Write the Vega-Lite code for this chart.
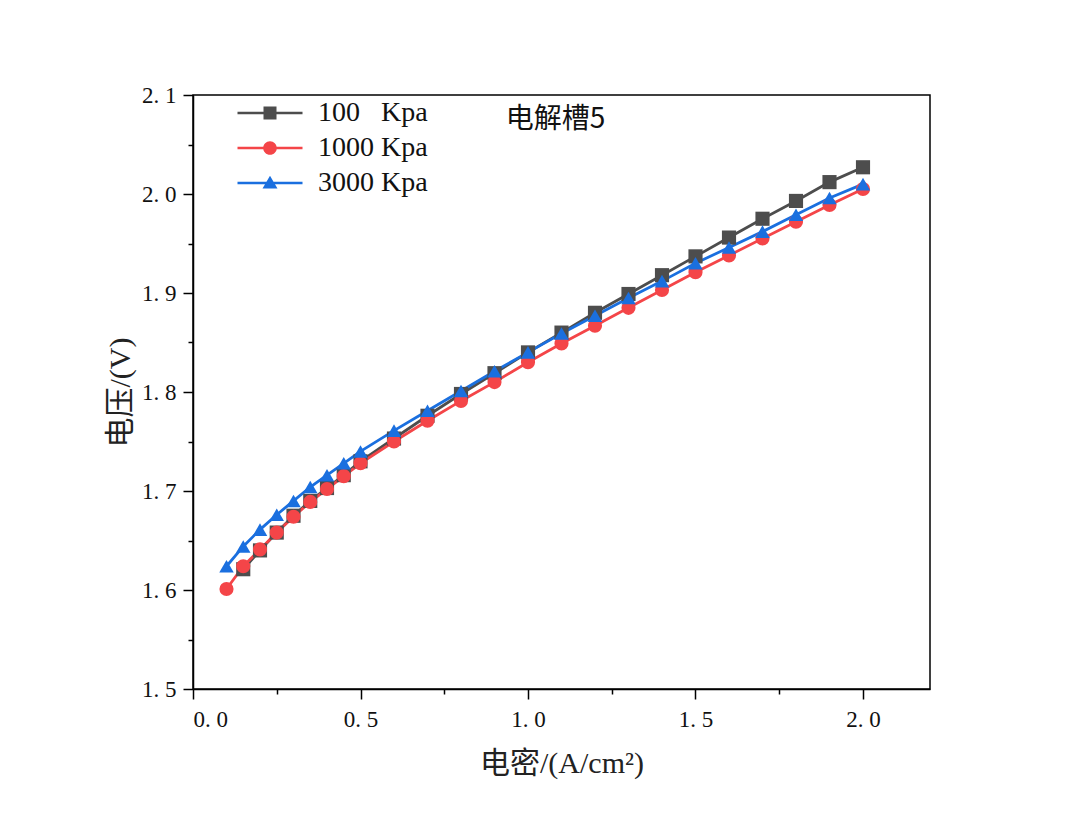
{
  "$schema": "https://vega.github.io/schema/vega-lite/v6.json",
  "autosize": "none",
  "width": 737,
  "height": 594,
  "padding": {"left": 193, "top": 95, "right": 150, "bottom": 137},
  "background": "white",
  "config": {
    "view": {"stroke": "black", "strokeWidth": 1.5},
    "axis": {"grid": false},
    "legend": {
      "title": null,
      "orient": "none",
      "legendX": 63,
      "legendY": 4,
      "padding": 0,
      "symbolSize": 169,
      "rowPadding": 7,
      "labelOffset": 34,
      "labelFont": "Liberation Serif",
      "labelFontSize": 28,
      "labelColor": "#111"
    }
  },
  "datasets": {
    "curves": [
      {"x": 0.15, "v": 1.621, "s": "100 Kpa"},
      {"x": 0.2, "v": 1.640, "s": "100 Kpa"},
      {"x": 0.25, "v": 1.658, "s": "100 Kpa"},
      {"x": 0.3, "v": 1.675, "s": "100 Kpa"},
      {"x": 0.35, "v": 1.690, "s": "100 Kpa"},
      {"x": 0.4, "v": 1.703, "s": "100 Kpa"},
      {"x": 0.45, "v": 1.716, "s": "100 Kpa"},
      {"x": 0.5, "v": 1.730, "s": "100 Kpa"},
      {"x": 0.6, "v": 1.753, "s": "100 Kpa"},
      {"x": 0.7, "v": 1.776, "s": "100 Kpa"},
      {"x": 0.8, "v": 1.798, "s": "100 Kpa"},
      {"x": 0.9, "v": 1.819, "s": "100 Kpa"},
      {"x": 1.0, "v": 1.840, "s": "100 Kpa"},
      {"x": 1.1, "v": 1.860, "s": "100 Kpa"},
      {"x": 1.2, "v": 1.880, "s": "100 Kpa"},
      {"x": 1.3, "v": 1.899, "s": "100 Kpa"},
      {"x": 1.4, "v": 1.918, "s": "100 Kpa"},
      {"x": 1.5, "v": 1.937, "s": "100 Kpa"},
      {"x": 1.6, "v": 1.956, "s": "100 Kpa"},
      {"x": 1.7, "v": 1.975, "s": "100 Kpa"},
      {"x": 1.8, "v": 1.993, "s": "100 Kpa"},
      {"x": 1.9, "v": 2.012, "s": "100 Kpa"},
      {"x": 2.0, "v": 2.027, "s": "100 Kpa"},
      {"x": 0.1, "v": 1.601, "s": "1000 Kpa"},
      {"x": 0.15, "v": 1.624, "s": "1000 Kpa"},
      {"x": 0.2, "v": 1.641, "s": "1000 Kpa"},
      {"x": 0.25, "v": 1.658, "s": "1000 Kpa"},
      {"x": 0.3, "v": 1.674, "s": "1000 Kpa"},
      {"x": 0.35, "v": 1.689, "s": "1000 Kpa"},
      {"x": 0.4, "v": 1.702, "s": "1000 Kpa"},
      {"x": 0.45, "v": 1.715, "s": "1000 Kpa"},
      {"x": 0.5, "v": 1.728, "s": "1000 Kpa"},
      {"x": 0.6, "v": 1.750, "s": "1000 Kpa"},
      {"x": 0.7, "v": 1.771, "s": "1000 Kpa"},
      {"x": 0.8, "v": 1.791, "s": "1000 Kpa"},
      {"x": 0.9, "v": 1.810, "s": "1000 Kpa"},
      {"x": 1.0, "v": 1.830, "s": "1000 Kpa"},
      {"x": 1.1, "v": 1.849, "s": "1000 Kpa"},
      {"x": 1.2, "v": 1.867, "s": "1000 Kpa"},
      {"x": 1.3, "v": 1.885, "s": "1000 Kpa"},
      {"x": 1.4, "v": 1.903, "s": "1000 Kpa"},
      {"x": 1.5, "v": 1.921, "s": "1000 Kpa"},
      {"x": 1.6, "v": 1.938, "s": "1000 Kpa"},
      {"x": 1.7, "v": 1.955, "s": "1000 Kpa"},
      {"x": 1.8, "v": 1.972, "s": "1000 Kpa"},
      {"x": 1.9, "v": 1.989, "s": "1000 Kpa"},
      {"x": 2.0, "v": 2.005, "s": "1000 Kpa"},
      {"x": 0.1, "v": 1.624, "s": "3000 Kpa"},
      {"x": 0.15, "v": 1.644, "s": "3000 Kpa"},
      {"x": 0.2, "v": 1.661, "s": "3000 Kpa"},
      {"x": 0.25, "v": 1.676, "s": "3000 Kpa"},
      {"x": 0.3, "v": 1.690, "s": "3000 Kpa"},
      {"x": 0.35, "v": 1.704, "s": "3000 Kpa"},
      {"x": 0.4, "v": 1.716, "s": "3000 Kpa"},
      {"x": 0.45, "v": 1.728, "s": "3000 Kpa"},
      {"x": 0.5, "v": 1.740, "s": "3000 Kpa"},
      {"x": 0.6, "v": 1.761, "s": "3000 Kpa"},
      {"x": 0.7, "v": 1.781, "s": "3000 Kpa"},
      {"x": 0.8, "v": 1.801, "s": "3000 Kpa"},
      {"x": 0.9, "v": 1.821, "s": "3000 Kpa"},
      {"x": 1.0, "v": 1.840, "s": "3000 Kpa"},
      {"x": 1.1, "v": 1.859, "s": "3000 Kpa"},
      {"x": 1.2, "v": 1.877, "s": "3000 Kpa"},
      {"x": 1.3, "v": 1.895, "s": "3000 Kpa"},
      {"x": 1.4, "v": 1.912, "s": "3000 Kpa"},
      {"x": 1.5, "v": 1.930, "s": "3000 Kpa"},
      {"x": 1.6, "v": 1.946, "s": "3000 Kpa"},
      {"x": 1.7, "v": 1.962, "s": "3000 Kpa"},
      {"x": 1.8, "v": 1.979, "s": "3000 Kpa"},
      {"x": 1.9, "v": 1.996, "s": "3000 Kpa"},
      {"x": 2.0, "v": 2.010, "s": "3000 Kpa"}
    ]
  },
  "layer": [
    {
      "data": {"name": "curves"},
      "mark": {"type": "line", "strokeWidth": 2.8},
      "encoding": {
        "x": {
          "field": "x", "type": "quantitative",
          "scale": {"domain": [0, 2.2], "nice": false, "zero": false},
          "axis": {
            "title": "电密/(A/cm²)",
            "titleFont": "Liberation Serif, Noto Sans CJK SC",
            "titleFontSize": 30, "titleFontWeight": "normal", "titleColor": "#222",
            "titlePadding": 17,
            "values": [0, 0.25, 0.5, 0.75, 1.0, 1.25, 1.5, 1.75, 2.0],
            "labelExpr": "round(datum.value*100) % 50 === 0 ? replace(format(datum.value, '.1f'), '.', '. ') : ''",
            "labelFont": "Liberation Serif", "labelFontSize": 23, "labelColor": "#111",
            "labelPadding": 9,
            "domainColor": "black", "domainWidth": 1.5,
            "tickColor": "black", "tickWidth": 1.5,
            "tickSize": {"condition": {"test": "round(datum.value*100) % 50 === 0", "value": 10}, "value": 5}
          }
        },
        "y": {
          "field": "v", "type": "quantitative",
          "scale": {"domain": [1.5, 2.1], "nice": false, "zero": false},
          "axis": {
            "title": "电压/(V)",
            "titleFont": "Liberation Serif, Noto Sans CJK SC",
            "titleFontSize": 30, "titleFontWeight": "normal", "titleColor": "#222",
            "titlePadding": 6,
            "values": [1.5, 1.55, 1.6, 1.65, 1.7, 1.75, 1.8, 1.85, 1.9, 1.95, 2.0, 2.05, 2.1],
            "labelExpr": "round(datum.value*100) % 10 === 0 ? replace(format(datum.value, '.1f'), '.', '. ') : ''",
            "labelFont": "Liberation Serif", "labelFontSize": 23, "labelColor": "#111",
            "labelPadding": 7,
            "domainColor": "black", "domainWidth": 1.5,
            "tickColor": "black", "tickWidth": 1.5,
            "tickSize": {"condition": {"test": "round(datum.value*100) % 10 === 0", "value": 10}, "value": 5}
          }
        },
        "color": {
          "field": "s", "type": "nominal",
          "scale": {"domain": ["100 Kpa", "1000 Kpa", "3000 Kpa"], "range": ["#4d4d4d", "#f44548", "#1a6fdf"]},
          "legend": {
            "labelExpr": "datum.label === '100 Kpa' ? '100\u2007 Kpa' : datum.label",
            "encode": {
              "symbols": {
                "update": {
                  "shape": {"signal": "datum.value === '100 Kpa' ? 'M-5,-0.2H5V0.2H-5Z M-1,-1H1V1H-1Z' : datum.value === '1000 Kpa' ? 'M-5,-0.2H5V0.2H-5Z M-1.05,0A1.05,1.05,0,1,1,1.05,0A1.05,1.05,0,1,1,-1.05,0Z' : 'M-5,-0.2H5V0.2H-5Z M0,-1.1L1.15,0.85H-1.15Z'"},
                  "fill": {"signal": "scale('color', datum.value)"},
                  "stroke": {"value": "transparent"},
                  "strokeWidth": {"value": 0},
                  "opacity": {"value": 1}
                }
              }
            }
          }
        },
        "order": {"field": "x", "type": "quantitative"}
      }
    },
    {
      "data": {"name": "curves"},
      "transform": [{"filter": "datum.s === '100 Kpa'"}],
      "mark": {"type": "point", "filled": true, "opacity": 1, "size": 200, "shape": "square"},
      "encoding": {
        "x": {"field": "x", "type": "quantitative"},
        "y": {"field": "v", "type": "quantitative"},
        "color": {"field": "s", "type": "nominal"}
      }
    },
    {
      "data": {"name": "curves"},
      "transform": [{"filter": "datum.s === '1000 Kpa'"}],
      "mark": {"type": "point", "filled": true, "opacity": 1, "size": 200, "shape": "circle"},
      "encoding": {
        "x": {"field": "x", "type": "quantitative"},
        "y": {"field": "v", "type": "quantitative"},
        "color": {"field": "s", "type": "nominal"}
      }
    },
    {
      "data": {"name": "curves"},
      "transform": [{"filter": "datum.s === '3000 Kpa'"}],
      "mark": {"type": "point", "filled": true, "opacity": 1, "size": 210, "shape": "triangle-up"},
      "encoding": {
        "x": {"field": "x", "type": "quantitative"},
        "y": {"field": "v", "type": "quantitative"},
        "color": {"field": "s", "type": "nominal"}
      }
    },
    {
      "data": {"values": [{"label": "电解槽5"}]},
      "mark": {"type": "text", "font": "Noto Sans CJK SC", "fontSize": 28, "color": "#111", "align": "center", "baseline": "middle"},
      "encoding": {
        "x": {"datum": 1.082, "type": "quantitative"},
        "y": {"datum": 2.075, "type": "quantitative"},
        "text": {"field": "label", "type": "nominal"}
      }
    }
  ]
}
